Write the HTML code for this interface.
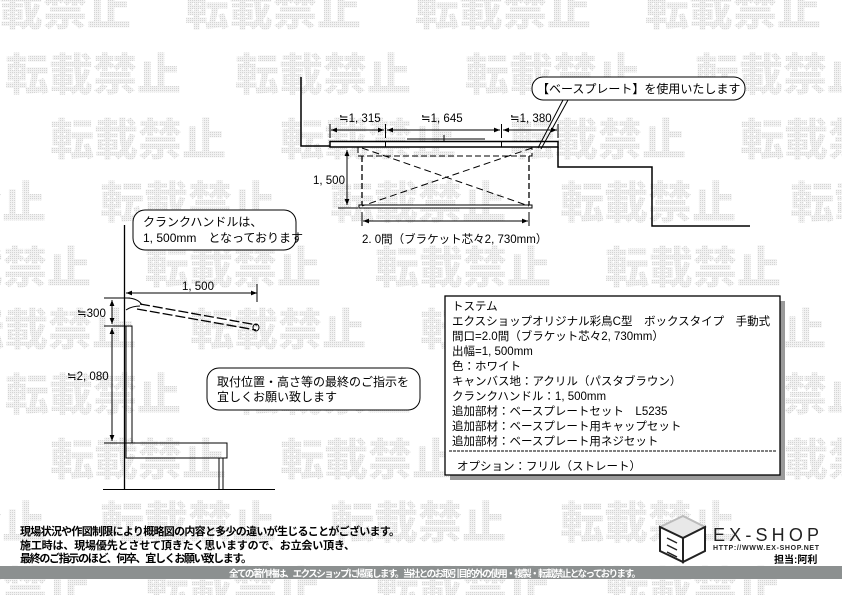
<!DOCTYPE html>
<html><head><meta charset="utf-8"><style>
html,body{margin:0;padding:0;background:#fff}
svg{display:block}
text{font-family:"Liberation Sans","Noto Sans CJK JP",sans-serif}
.wm{font-family:"Noto Sans CJK JP",sans-serif;font-weight:900;font-size:44px;fill:url(#dots)}
</style></head><body>
<svg width="842" height="595" viewBox="0 0 842 595" xmlns="http://www.w3.org/2000/svg">
<defs>
<marker id="a" viewBox="0 0 10 10" refX="10" refY="5" markerWidth="8" markerHeight="6" orient="auto-start-reverse"><path d="M0,1 L10,5 L0,9z" fill="#000"/></marker>
<pattern id="dots" width="2" height="2" patternUnits="userSpaceOnUse"><rect width="2" height="2" fill="#f2f2f2"/><rect width="1" height="1" fill="#d4d4d4"/></pattern>
</defs>
<g class="wm">
<text x="-45" y="25">転載禁止</text><text x="185" y="25">転載禁止</text><text x="415" y="25">転載禁止</text><text x="645" y="25">転載禁止</text>
<text x="5" y="90">転載禁止</text><text x="235" y="90">転載禁止</text><text x="465" y="90">転載禁止</text><text x="695" y="90">転載禁止</text>
<text x="-180" y="155">転載禁止</text><text x="50" y="155">転載禁止</text><text x="280" y="155">転載禁止</text><text x="510" y="155">転載禁止</text><text x="740" y="155">転載禁止</text>
<text x="-130" y="218">転載禁止</text><text x="100" y="218">転載禁止</text><text x="330" y="218">転載禁止</text><text x="560" y="218">転載禁止</text><text x="790" y="218">転載禁止</text>
<text x="-85" y="283">転載禁止</text><text x="145" y="283">転載禁止</text><text x="375" y="283">転載禁止</text><text x="605" y="283">転載禁止</text>
<text x="-40" y="345">転載禁止</text><text x="190" y="345">転載禁止</text><text x="420" y="345">転載禁止</text><text x="650" y="345">転載禁止</text>
<text x="5" y="410">転載禁止</text><text x="235" y="410">転載禁止</text><text x="465" y="410">転載禁止</text><text x="695" y="410">転載禁止</text>
<text x="-180" y="475">転載禁止</text><text x="50" y="475">転載禁止</text><text x="280" y="475">転載禁止</text><text x="510" y="475">転載禁止</text><text x="740" y="475">転載禁止</text>
<text x="-130" y="538">転載禁止</text><text x="100" y="538">転載禁止</text><text x="330" y="538">転載禁止</text><text x="560" y="538">転載禁止</text>
<text x="-85" y="603">転載禁止</text><text x="145" y="603">転載禁止</text><text x="375" y="603">転載禁止</text><text x="605" y="603">転載禁止</text>
</g>

<g stroke="#000" fill="none" stroke-width="1">
<path d="M301,77 V146 H330" stroke-width="1.5"/>
<rect x="330" y="141.5" width="228" height="5.5" fill="#fff" stroke-width="1.5"/>
<path d="M385.5,141.5V147 M501.5,141.5V147"/>
<path d="M407,139 H485 M444,135 V141"/>
<path d="M558,147 V167 H652 V226 H750" stroke-width="1.5"/>
<rect x="358" y="147" width="174" height="9" stroke-dasharray="6,3"/>
<path d="M362,156 V206 M529,156 V206" stroke-dasharray="6,3" stroke-width="1.3"/>
<rect x="359" y="205" width="173" height="3" fill="#fff"/>
<path d="M362,148 L529,206 M532,148 L362,206" stroke-dasharray="7,4"/>
<path d="M347,150 V205" marker-start="url(#a)" marker-end="url(#a)"/>
<path d="M338,208 H358 M338,147 H358"/>
<path d="M362,212 V226 M529,212 V226"/>
<path d="M363,221 H528" marker-start="url(#a)" marker-end="url(#a)"/>
<path d="M330,124 V138 M385.5,124 V138 M501.5,124 V138 M558,124 V138"/>
<path d="M331,130 H384" marker-start="url(#a)" marker-end="url(#a)"/>
<path d="M387,130 H500" marker-start="url(#a)" marker-end="url(#a)"/>
<path d="M503,130 H557" marker-start="url(#a)" marker-end="url(#a)"/>
<rect x="532" y="77" width="213" height="23" rx="11" fill="#fff"/>
<path d="M563,100 L538,148 M568,100 L541,149"/>
<path d="M124.5,225 V490" stroke-width="1.3"/>
<path d="M103,489.5 H275"/>
<rect x="126" y="326" width="6" height="117"/>
<rect x="126" y="443" width="101" height="15"/>
<path d="M219,458 V490 M223,458 V490"/>
<path d="M126,293 H257" marker-end="url(#a)"/>
<path d="M126,293 H130" marker-start="url(#a)"/>
<path d="M257,284 V302"/>
<path d="M104,298 H130 M104,326 H126 M104,443 H126"/>
<path d="M112,300 V324" marker-start="url(#a)" marker-end="url(#a)"/>
<path d="M112,328 V441" marker-start="url(#a)" marker-end="url(#a)"/>
<path d="M126,298 Q138,298 142,305"/>
<path d="M140,304 L257,325 M137,309 L256,330" stroke-dasharray="10,3" stroke-width="1.3"/>
<path d="M126,310 Q132,306 140,306"/>
<ellipse cx="256" cy="327.5" rx="3" ry="3.5"/>
<rect x="133" y="210" width="163" height="40" rx="12" fill="#fff"/>
<rect x="207" y="368" width="213" height="42" rx="12" fill="#fff"/>
<rect x="450" y="301" width="335" height="179" fill="#9a9a9a" stroke="none"/>
<rect x="445" y="296" width="335" height="179" fill="#fff" stroke-width="1.3"/>
<path d="M449,451 H777" stroke-dasharray="3,1"/>
</g>

<g font-size="11.5" fill="#000">
<text x="339" y="122">≒1, 315</text>
<text x="421" y="122">≒1, 645</text>
<text x="510" y="122">≒1, 380</text>
<text x="313" y="184">1, 500</text>
<text x="362" y="243">2. 0間（ブラケット芯々2, 730mm）</text>
<text x="537" y="93" font-size="12">【ベースプレート】を使用いたします</text>
<text x="143" y="226" font-size="12">クランクハンドルは、</text>
<text x="143" y="242" font-size="12">1, 500mm　となっております</text>
<text x="182" y="290">1, 500</text>
<text x="77" y="317">≒300</text>
<text x="67" y="380">≒2, 080</text>
<text x="217" y="386" font-size="12">取付位置・高さ等の最終のご指示を</text>
<text x="217" y="401" font-size="12">宜しくお願い致します</text>
</g>
<g font-size="11.5" fill="#000">
<text x="452" y="310">トステム</text>
<text x="452" y="325">エクスショップオリジナル彩鳥C型　ボックスタイプ　手動式</text>
<text x="452" y="340">間口=2.0間（ブラケット芯々2, 730mm）</text>
<text x="452" y="355">出幅=1, 500mm</text>
<text x="452" y="370">色：ホワイト</text>
<text x="452" y="385">キャンバス地：アクリル（パスタブラウン）</text>
<text x="452" y="400">クランクハンドル：1, 500mm</text>
<text x="452" y="415">追加部材：ベースプレートセット　L5235</text>
<text x="452" y="430">追加部材：ベースプレート用キャップセット</text>
<text x="452" y="445">追加部材：ベースプレート用ネジセット</text>
<text x="457" y="470">オプション：フリル（ストレート）</text>
</g>

<g font-size="11" font-weight="bold" fill="#000">
<text x="20" y="535" textLength="380">現場状況や作図制限により概略図の内容と多少の違いが生じることがございます。</text>
<text x="20" y="549" textLength="335">施工時は、現場優先とさせて頂きたく思いますので、お立会い頂き、</text>
<text x="20" y="562" textLength="232">最終のご指示のほど、何卒、宜しくお願い致します。</text>
</g>
<rect x="0" y="566" width="842" height="13" fill="#8c9090"/>
<text x="229" y="577" font-size="9.5" font-weight="bold" fill="#fff" textLength="412">全ての著作権は、エクスショップに帰属します。当社とのお取引目的外の使用・複製・転載禁止となっております。</text>

<g stroke="#222" stroke-width="2" fill="#fff">
<path d="M660,527 L683,516 L705,527 L683,538 Z" fill="#e8e8e8" stroke="#bbb"/>
<path d="M660,527 L683,538 V562 L660,551 Z"/>
<path d="M705,527 L683,538 V562 L705,551 Z"/>
<path d="M667,538 L677,543 M667,545 L677,550 M667,552 L677,557" stroke-width="1.5"/>
</g>
<text x="713" y="541" font-size="18" fill="#222" textLength="106" font-family="Liberation Sans">EX-SHOP</text>
<text x="713" y="550" font-size="7" font-weight="bold" fill="#222" textLength="106">HTTP://WWW.EX-SHOP.NET</text>
<text x="774" y="563" font-size="10" font-weight="bold" fill="#000">担当:阿利</text>
</svg>
</body></html>
